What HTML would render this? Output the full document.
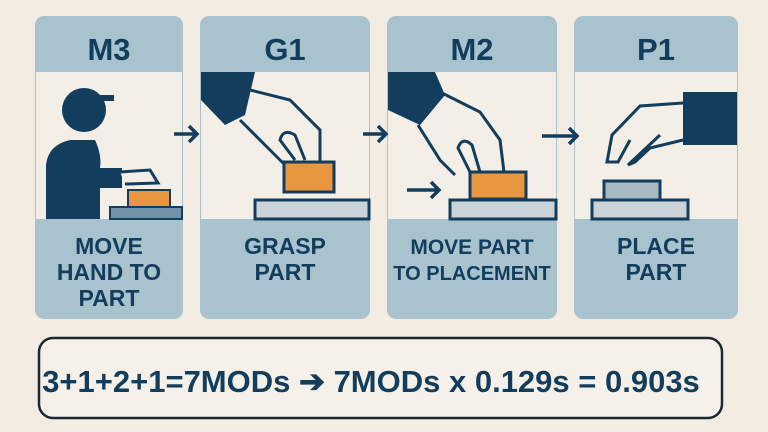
<!DOCTYPE html>
<html><head><style>
body{margin:0;background:#f2ece3;}
svg{display:block}
text{font-family:"Liberation Sans",sans-serif;font-weight:bold;fill:#123d5c;text-anchor:middle}
</style></head><body>
<svg width="768" height="432" viewBox="0 0 768 432">
<rect width="768" height="432" fill="#f2ece3"/>
<g fill="#a8c3cd">
<rect x="35" y="16" width="148" height="303" rx="9"/>
<rect x="200" y="16" width="170" height="303" rx="9"/>
<rect x="387" y="16" width="170" height="303" rx="9"/>
<rect x="574" y="16" width="164" height="303" rx="9"/>
</g>
<g fill="#f4efe6">
<rect x="36" y="72" width="146" height="147"/>
<rect x="201" y="72" width="168" height="147"/>
<rect x="388" y="72" width="168" height="147"/>
<rect x="575" y="72" width="162" height="147"/>
</g>
<text x="109" y="60" font-size="31">M3</text>
<text x="285" y="60" font-size="31">G1</text>
<text x="472" y="60" font-size="31">M2</text>
<text x="656" y="60" font-size="31">P1</text>
<g font-size="23">
<text x="109" y="254">MOVE</text><text x="109" y="280">HAND TO</text><text x="109" y="306">PART</text>
<text x="285" y="254">GRASP</text><text x="285" y="280">PART</text>
<text x="472" y="254" font-size="21">MOVE PART</text><text x="472" y="280" font-size="20">TO PLACEMENT</text>
<text x="656" y="254">PLACE</text><text x="656" y="280">PART</text>
</g>
<g fill="#123d5c">
<circle cx="84" cy="110" r="22"/>
<rect x="100" y="95" width="14" height="6"/>
<path d="M46 219 L46 165 Q48 145 70 140 L95 140 Q102 155 100 168 L122 168 L122 188 L100 188 L100 219 Z"/>
</g>
<path d="M120 172 L150 170 L158 183 L125 184" fill="#f4efe6" stroke="#123d5c" stroke-width="3"/>
<rect x="128" y="190" width="42" height="17" fill="#e8973f" stroke="#123d5c" stroke-width="2"/>
<rect x="110" y="207" width="72" height="12" fill="#6f93a8" stroke="#123d5c" stroke-width="2"/>
<path d="M174 134 L196 134 M189 126 L197 134 L189 142" stroke="#123d5c" stroke-width="3.5" fill="none"/>
<path d="M201 72 L255 72 L245 115 L225 125 L201 100 Z" fill="#123d5c"/>
<path d="M250 90 L290 100 L320 130 L320 162 M240 120 L270 150 L285 165" stroke="#123d5c" stroke-width="3" fill="none"/>
<path d="M295 160 L280 140 Q283 128 295 135 L305 160" stroke="#123d5c" stroke-width="3" fill="none"/>
<rect x="284" y="162" width="50" height="30" fill="#e8973f" stroke="#123d5c" stroke-width="3"/>
<rect x="255" y="200" width="114" height="19" fill="#c9d3d8" stroke="#123d5c" stroke-width="3"/>
<path d="M363 134 L385 134 M378 126 L386 134 L378 142" stroke="#123d5c" stroke-width="3.5" fill="none"/>
<path d="M388 72 L435 72 L445 95 L420 125 L388 110 Z" fill="#123d5c"/>
<path d="M440 92 L480 112 L500 140 L504 172 M418 125 L440 160 L455 175" stroke="#123d5c" stroke-width="3" fill="none"/>
<path d="M470 172 L458 148 Q462 136 472 145 L480 172" stroke="#123d5c" stroke-width="3" fill="none"/>
<rect x="470" y="172" width="56" height="27" fill="#e8973f" stroke="#123d5c" stroke-width="3"/>
<rect x="450" y="200" width="106" height="19" fill="#c9d3d8" stroke="#123d5c" stroke-width="3"/>
<path d="M407 190 L438 190 M431 182 L439 190 L431 198" stroke="#123d5c" stroke-width="3.5" fill="none"/>
<path d="M542 136 L576 136 M569 128 L577 136 L569 144" stroke="#123d5c" stroke-width="3.5" fill="none"/>
<rect x="683" y="92" width="54" height="53" fill="#123d5c"/>
<path d="M683 103 L640 106 L612 135 L607 162 L618 162 L630 140 M683 140 L650 148 L635 162 L628 165 L660 135" stroke="#123d5c" stroke-width="3" fill="none"/>
<rect x="604" y="181" width="56" height="19" fill="#a9b9c1" stroke="#123d5c" stroke-width="3"/>
<rect x="592" y="200" width="96" height="19" fill="#c9d3d8" stroke="#123d5c" stroke-width="3"/>
<rect x="39" y="338" width="683" height="80" rx="14" fill="#f5f0e8" stroke="#1d2730" stroke-width="2.5"/>
<text x="371" y="392" font-size="31" fill="#1b3a52">3+1+2+1=7MODs ➔ 7MODs x 0.129s = 0.903s</text>
</svg>
</body></html>
